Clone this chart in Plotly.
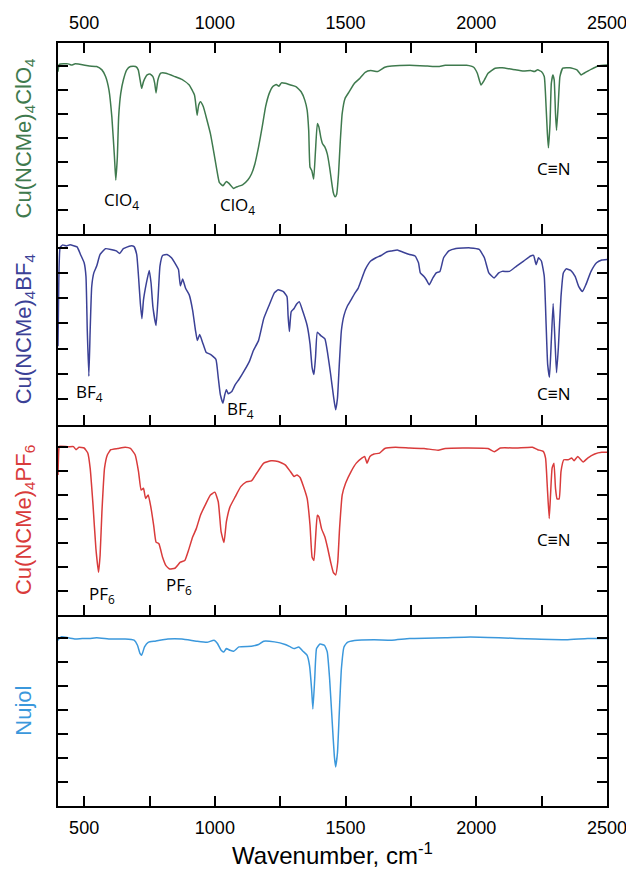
import plotly.graph_objects as go
from plotly.subplots import make_subplots

# ---------------- data (wavenumber, transmittance in arbitrary units) ----------------
clo4_wn = [400, 405, 439, 452, 466, 520, 548, 568, 582, 595, 606, 616, 621, 627, 632, 640, 650, 663, 677, 697,
           707, 714, 720, 727, 741, 752, 763, 770, 775, 782, 793, 813, 847, 874, 902, 922, 926, 932, 938, 945,
           956, 970, 983, 997, 1008, 1017, 1031, 1044, 1054, 1072, 1085, 1106, 1126, 1140, 1153, 1167, 1181,
           1194, 1208, 1221, 1235, 1245, 1255, 1269, 1289, 1310, 1330, 1344, 1353, 1359, 1364, 1371, 1378,
           1385, 1392, 1398, 1405, 1412, 1421, 1430, 1439, 1446, 1453, 1460, 1466, 1473, 1480, 1487, 1498,
           1514, 1534, 1555, 1575, 1596, 1623, 1650, 1677, 1745, 1813, 1854, 1881, 1963, 1990, 2004, 2018,
           2031, 2045, 2072, 2099, 2140, 2181, 2208, 2222, 2235, 2249, 2260, 2267, 2272, 2276, 2282, 2287,
           2293, 2298, 2303, 2307, 2313, 2320, 2331, 2358, 2385, 2401, 2412, 2439, 2467, 2500]
clo4_t = [6.75, 7.06, 7.08, 7.03, 7.08, 6.99, 6.97, 6.83, 6.55, 5.99, 4.87, 3.19, 2.24, 3.19, 4.87, 5.85, 6.41,
          6.83, 6.97, 6.97, 6.83, 6.41, 6.06, 6.34, 6.62, 6.66, 6.55, 6.27, 5.87, 6.41, 6.69, 6.69, 6.55, 6.43,
          6.20, 5.78, 5.50, 4.94, 5.36, 5.50, 5.29, 4.73, 4.17, 3.33, 2.63, 2.14, 2.00, 2.18, 2.10, 1.89, 1.96,
          2.04, 2.24, 2.49, 2.91, 3.61, 4.45, 5.29, 5.85, 6.13, 6.22, 6.15, 6.29, 6.27, 6.20, 6.13, 5.92, 5.57,
          5.15, 4.31, 2.77, 2.63, 2.28, 3.47, 4.59, 4.45, 4.03, 3.75, 3.61, 3.33, 2.77, 2.21, 1.72, 1.54, 1.65,
          2.49, 3.89, 5.01, 5.64, 5.92, 6.27, 6.48, 6.73, 6.80, 6.76, 6.94, 6.99, 7.02, 6.99, 6.97, 7.02, 7.02,
          6.94, 6.69, 6.20, 6.41, 6.69, 6.90, 6.92, 6.85, 6.78, 6.80, 6.76, 6.83, 6.76, 6.55, 5.29, 4.17, 3.58,
          4.59, 6.27, 6.62, 6.41, 5.01, 4.31, 5.29, 6.55, 6.90, 6.92, 6.83, 6.62, 6.69, 6.85, 6.99, 7.03]

bf4_wn = [400, 403, 408, 418, 432, 446, 473, 486, 500, 507, 512, 518, 523, 529, 537, 548, 561, 582, 602, 623,
          636, 650, 677, 691, 701, 708, 715, 721, 727, 738, 749, 756, 763, 775, 783, 790, 800, 817, 834, 854,
          861, 868, 877, 888, 902, 915, 926, 933, 942, 953, 967, 983, 1004, 1013, 1021, 1031, 1038, 1044, 1051,
          1065, 1078, 1092, 1112, 1133, 1147, 1167, 1187, 1208, 1228, 1242, 1262, 1276, 1280, 1285, 1292, 1303,
          1313, 1323, 1337, 1353, 1364, 1372, 1379, 1385, 1392, 1405, 1421, 1432, 1443, 1453, 1462, 1469, 1476,
          1484, 1494, 1507, 1521, 1534, 1548, 1558, 1575, 1596, 1616, 1636, 1657, 1677, 1698, 1718, 1745, 1766,
          1779, 1786, 1800, 1809, 1820, 1834, 1847, 1861, 1875, 1895, 1922, 1977, 2011, 2031, 2048, 2068, 2086,
          2099, 2127, 2154, 2181, 2208, 2219, 2229, 2238, 2249, 2260, 2267, 2273, 2280, 2287, 2294, 2301, 2307,
          2314, 2324, 2333, 2344, 2361, 2378, 2392, 2406, 2419, 2439, 2460, 2480, 2500]
bf4_t = [3.10, 5.60, 7.00, 7.11, 7.07, 7.11, 7.03, 6.73, 6.40, 5.86, 3.72, 1.91, 3.72, 5.46, 6.00, 6.27, 6.73,
         6.96, 6.93, 6.87, 6.77, 6.96, 7.07, 7.04, 6.73, 5.86, 4.79, 4.19, 4.93, 5.60, 6.10, 5.60, 4.66, 3.92,
         5.06, 6.27, 6.69, 6.73, 6.60, 6.27, 6.13, 5.49, 5.76, 5.39, 5.13, 4.52, 3.72, 3.32, 3.56, 3.25, 2.85,
         2.78, 2.58, 1.85, 1.18, 0.84, 1.18, 1.38, 1.22, 1.31, 1.58, 1.78, 2.12, 2.52, 2.92, 3.32, 4.19, 4.73,
         5.22, 5.33, 5.26, 5.06, 4.32, 3.68, 4.46, 4.59, 4.77, 4.86, 4.46, 3.92, 3.19, 2.25, 1.98, 2.65, 3.65,
         3.52, 3.39, 2.78, 1.98, 1.18, 0.58, 1.04, 2.38, 3.72, 4.32, 4.69, 4.93, 5.17, 5.39, 5.66, 6.13, 6.47,
         6.60, 6.69, 6.83, 6.87, 6.91, 6.83, 6.73, 6.67, 6.40, 6.00, 5.86, 5.73, 5.53, 5.80, 6.00, 6.06, 6.60,
         6.87, 6.97, 6.99, 6.93, 6.60, 6.00, 5.80, 6.00, 6.06, 6.06, 6.27, 6.47, 6.67, 6.69, 6.33, 6.60, 6.47,
         5.86, 3.99, 2.38, 1.87, 3.32, 4.79, 3.32, 2.05, 3.05, 5.06, 6.00, 6.16, 6.10, 5.86, 5.46, 5.26, 5.53,
         6.06, 6.40, 6.51, 6.53]

pf6_wn = [400, 403, 405, 439, 459, 469, 480, 500, 514, 523, 534, 545, 555, 561, 568, 578, 589, 602, 629, 657,
          677, 695, 708, 718, 727, 735, 745, 755, 766, 775, 786, 800, 813, 827, 847, 868, 885, 899, 915, 929,
          945, 963, 983, 1000, 1013, 1024, 1035, 1044, 1058, 1078, 1099, 1119, 1140, 1160, 1187, 1215, 1242,
          1269, 1289, 1303, 1314, 1326, 1337, 1353, 1364, 1372, 1379, 1385, 1392, 1398, 1408, 1421, 1432, 1443,
          1453, 1462, 1470, 1477, 1487, 1500, 1521, 1541, 1562, 1573, 1582, 1593, 1609, 1630, 1650, 1691, 1745,
          1800, 1854, 1881, 1949, 2045, 2069, 2092, 2154, 2215, 2235, 2256, 2265, 2272, 2279, 2284, 2290, 2297,
          2303, 2309, 2317, 2324, 2335, 2351, 2365, 2374, 2388, 2409, 2426, 2453, 2480, 2500]
pf6_t = [5.85, 6.90, 7.04, 7.02, 7.03, 6.90, 7.00, 6.97, 6.76, 6.13, 4.59, 2.77, 1.79, 2.49, 4.31, 6.13, 6.69,
         6.90, 6.95, 7.00, 6.95, 6.69, 5.99, 5.22, 5.29, 4.87, 5.01, 4.52, 3.75, 3.05, 2.98, 2.42, 2.07, 1.93,
         1.96, 2.21, 2.28, 2.70, 3.26, 3.61, 4.17, 4.59, 5.01, 5.13, 4.73, 3.47, 3.03, 3.89, 4.52, 4.94, 5.36,
         5.55, 5.60, 5.92, 6.34, 6.44, 6.41, 6.27, 5.99, 5.78, 5.85, 5.74, 5.43, 4.87, 3.75, 2.42, 2.28, 3.19,
         4.17, 4.10, 3.61, 3.26, 2.77, 2.21, 1.79, 1.68, 2.21, 3.61, 5.01, 5.50, 5.99, 6.34, 6.55, 6.62, 6.34,
         6.62, 6.72, 6.76, 6.95, 7.00, 6.97, 6.95, 6.88, 6.95, 6.97, 6.95, 6.81, 6.97, 6.97, 7.00, 6.90, 6.83,
         6.55, 5.29, 4.03, 5.01, 6.13, 6.34, 5.29, 4.85, 4.85, 5.99, 6.48, 6.48, 6.55, 6.44, 6.62, 6.39, 6.55,
         6.72, 6.79, 6.79]

nujol_wn = [400, 412, 439, 466, 493, 520, 548, 602, 657, 691, 704, 714, 720, 731, 745, 772, 820, 874, 929, 970,
            997, 1010, 1024, 1034, 1044, 1058, 1072, 1092, 1140, 1167, 1187, 1228, 1269, 1289, 1303, 1321, 1337,
            1353, 1362, 1370, 1375, 1382, 1389, 1402, 1419, 1430, 1439, 1449, 1457, 1462, 1469, 1476, 1484, 1494,
            1507, 1534, 1609, 1677, 1745, 1881, 1977, 2086, 2222, 2344, 2426, 2500]
nujol_t = [6.91, 7.05, 7.01, 6.96, 6.98, 6.98, 7.01, 6.96, 6.96, 6.91, 6.70, 6.35, 6.28, 6.63, 6.82, 6.87, 6.96,
           6.96, 6.87, 6.82, 6.91, 6.77, 6.49, 6.42, 6.56, 6.49, 6.45, 6.63, 6.66, 6.73, 6.87, 6.84, 6.73, 6.63,
           6.56, 6.63, 6.45, 6.28, 5.86, 4.88, 4.04, 5.30, 6.56, 6.75, 6.70, 6.42, 5.30, 3.48, 2.08, 1.63, 2.22,
           3.90, 5.72, 6.63, 6.82, 6.90, 6.93, 6.91, 6.98, 7.01, 7.04, 7.01, 6.96, 6.93, 6.98, 6.98]

x_tick_vals = [500, 1000, 1500, 2000, 2500]
x_tick_text = ["500", "1000", "1500", "2000", "2500"]

panel_titles = ["Cu(NCMe)<sub>4</sub>ClO<sub>4</sub>", "Cu(NCMe)<sub>4</sub>BF<sub>4</sub>",
                "Cu(NCMe)<sub>4</sub>PF<sub>6</sub>", "Nujol"]
panel_colors = ["#3f7a4e", "#3b4196", "#d93b3b", "#3b98dc"]
y_ranges = [[0, 7.95], [0, 7.55], [0, 7.95], [0, 7.95]]

# annotations: (panel, wavenumber, transmittance, text)
labels = [
    (1, 643, 1.40, "ClO<sub>4</sub>"), (1, 1085, 1.16, "ClO<sub>4</sub>"), (1, 2297, 2.73, "C≡N"),
    (2, 520, 1.25, "BF<sub>4</sub>"), (2, 1099, 0.58, "BF<sub>4</sub>"), (2, 2297, 1.22, "C≡N"),
    (3, 568, 0.88, "PF<sub>6</sub>"), (3, 861, 1.23, "PF<sub>6</sub>"), (3, 2297, 3.17, "C≡N"),
]

series = [(clo4_wn, clo4_t), (bf4_wn, bf4_t), (pf6_wn, pf6_t), (nujol_wn, nujol_t)]

fig = make_subplots(rows=4, cols=1, shared_xaxes=True, vertical_spacing=0)

for i, (wn, t) in enumerate(series):
    fig.add_trace(go.Scatter(x=wn, y=t, mode="lines",
                             line=dict(color=panel_colors[i], width=1.5, shape="spline", smoothing=0.4),
                             showlegend=False, hoverinfo="skip"), row=i + 1, col=1)

axis_font = dict(family="Liberation Sans, Arial, sans-serif", size=18, color="black")
LW = 1.6
for i in range(4):
    r = i + 1
    common_x = dict(range=[400, 2500], tickvals=x_tick_vals, ticktext=x_tick_text,
                    ticks="inside", ticklen=10, tickwidth=1.5, tickcolor="black",
                    minor=dict(dtick=250, tick0=0, ticks="inside", ticklen=10, tickwidth=1.5, tickcolor="black"),
                    showline=True, linecolor="black", linewidth=LW, ticklabelstandoff=5,
                    ticklabeloverflow="allow",
                    showgrid=False, zeroline=False, tickfont=axis_font, automargin=False)
    if r == 1:
        fig.update_xaxes(**common_x, side="top", mirror="ticks", showticklabels=True, row=r, col=1)
    else:
        fig.update_xaxes(**common_x, side="bottom", mirror=False, showticklabels=(r == 4), row=r, col=1)
    fig.update_yaxes(range=y_ranges[i], dtick=1, tick0=0, ticks="inside", ticklen=10, tickwidth=1.5,
                     tickcolor="black", showticklabels=False, automargin=False,
                     showline=True, linecolor="black", linewidth=LW, mirror="ticks",
                     showgrid=False, zeroline=False,
                     title=dict(text=panel_titles[i], standoff=19,
                                font=dict(family="Liberation Sans, Arial, sans-serif", size=22,
                                          color=panel_colors[i])),
                     row=r, col=1)

fig.update_xaxes(title=dict(text="Wavenumber, cm<sup>-1</sup>", standoff=10,
                            font=dict(family="Liberation Sans, Arial, sans-serif", size=24, color="black")),
                 row=4, col=1)

for (p, x, y, txt) in labels:
    fig.add_annotation(x=x, y=y, xref=f"x{p if p > 1 else ''}", yref=f"y{p if p > 1 else ''}",
                       text=txt, showarrow=False,
                       font=dict(family="Open Sans, Noto Sans, sans-serif", size=17, color="black"))

# the page body adds an 8 px margin, so the figure is sized to sit inside the 634x878 window
fig.update_layout(width=626, height=862, margin=dict(l=50, r=27, t=35, b=64),
                  plot_bgcolor="white", paper_bgcolor="white")

fig.write_html("out.html")
